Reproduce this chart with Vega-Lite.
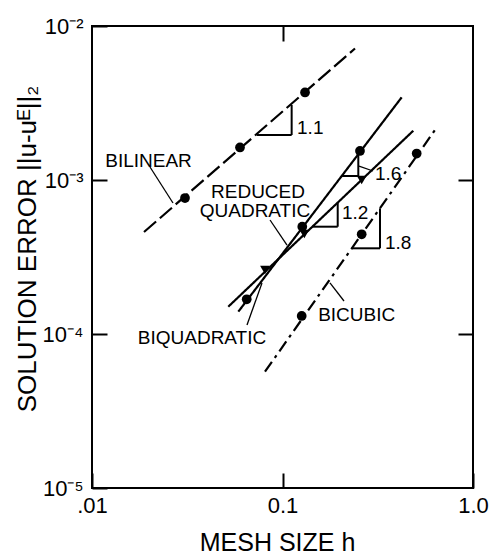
{
  "$schema": "https://vega.github.io/schema/vega-lite/v6.json",
  "width": 381,
  "height": 462,
  "autosize": "none",
  "padding": {"left": 92, "top": 26, "right": 17, "bottom": 70},
  "background": "white",
  "config": {
    "view": {"stroke": "black", "strokeWidth": 2},
    "axis": {
      "grid": false, "domain": false, "ticks": true,
      "tickColor": "black", "tickWidth": 2, "tickSize": -15,
      "labelColor": "black", "titleColor": "black",
      "labelFont": "Liberation Sans", "titleFont": "Liberation Sans",
      "titleFontWeight": "normal", "labelOverlap": false
    },
    "text": {"font": "Liberation Sans", "color": "black"}
  },
  "datasets": {
    "lines": [
      {"series": "bilinear", "h": 0.01875, "err": 0.0004596},
      {"series": "bilinear", "h": 0.2402, "err": 0.007142},
      {"series": "biquadratic", "h": 0.05861, "err": 0.0001396},
      {"series": "biquadratic", "h": 0.4223, "err": 0.003443},
      {"series": "reduced", "h": 0.05193, "err": 0.0001504},
      {"series": "reduced", "h": 0.4860, "err": 0.002090},
      {"series": "bicubic", "h": 0.08091, "err": 0.0000569},
      {"series": "bicubic", "h": 0.6318, "err": 0.002112}
    ],
    "points": [
      {"series": "bilinear", "marker": "circle", "h": 0.03077, "err": 0.000764},
      {"series": "bilinear", "marker": "circle", "h": 0.05982, "err": 0.001626},
      {"series": "bilinear", "marker": "circle", "h": 0.1313, "err": 0.0037},
      {"series": "biquadratic", "marker": "circle", "h": 0.06489, "err": 0.000168},
      {"series": "biquadratic", "marker": "circle", "h": 0.1270, "err": 0.0004975},
      {"series": "biquadratic", "marker": "circle", "h": 0.2551, "err": 0.001543},
      {"series": "reduced", "marker": "triangle", "h": 0.08091, "err": 0.0002603},
      {"series": "reduced", "marker": "triangle", "h": 0.1302, "err": 0.0004461},
      {"series": "reduced", "marker": "triangle", "h": 0.2604, "err": 0.001},
      {"series": "bicubic", "marker": "circle", "h": 0.1261, "err": 0.0001309},
      {"series": "bicubic", "marker": "circle", "h": 0.2604, "err": 0.000444},
      {"series": "bicubic", "marker": "circle", "h": 0.5063, "err": 0.001486}
    ],
    "legs": [
      {"h": 0.07321, "err": 0.00196, "h2": 0.1117, "err2": 0.00196},
      {"h": 0.1117, "err": 0.00196, "h2": 0.1117, "err2": 0.003069},
      {"h": 0.2053, "err": 0.001062, "h2": 0.25, "err2": 0.001062},
      {"h": 0.25, "err": 0.001062, "h2": 0.25, "err2": 0.001453},
      {"h": 0.1429, "err": 0.0004975, "h2": 0.1949, "err2": 0.0004975},
      {"h": 0.1949, "err": 0.0004975, "h2": 0.1949, "err2": 0.0007088},
      {"h": 0.2302, "err": 0.0003601, "h2": 0.3249, "err2": 0.0003601},
      {"h": 0.3249, "err": 0.0003601, "h2": 0.3249, "err2": 0.0006548}
    ],
    "leaders": [
      {"h": 0.02016, "err": 0.001215, "h2": 0.02662, "err2": 0.0007088},
      {"h": 0.08601, "err": 0.0005498, "h2": 0.1056, "err2": 0.0003783},
      {"h": 0.06511, "err": 0.0001144, "h2": 0.07805, "err2": 0.0002145},
      {"h": 0.1775, "err": 0.0002145, "h2": 0.2103, "err2": 0.0001638},
      {"h": 0.2522, "err": 0.001232, "h2": 0.2986, "err2": 0.001144}
    ],
    "names": [
      {"label": "BILINEAR", "h": 0.0198, "err": 0.001338},
      {"label": "REDUCED", "h": 0.07437, "err": 0.000842},
      {"label": "QUADRATIC", "h": 0.0717, "err": 0.0006244},
      {"label": "BIQUADRATIC", "h": 0.0378, "err": 0.0000935},
      {"label": "BICUBIC", "h": 0.2452, "err": 0.0001328}
    ],
    "slopes": [
      {"label": "1.1", "h": 0.1192, "err": 0.002166},
      {"label": "1.6", "h": 0.3059, "err": 0.001102},
      {"label": "1.2", "h": 0.2053, "err": 0.0006105},
      {"label": "1.8", "h": 0.3452, "err": 0.0003882}
    ]
  },
  "layer": [
    {
      "data": {"name": "lines"},
      "mark": {"type": "line", "color": "black", "strokeWidth": 2.2},
      "encoding": {
        "x": {
          "field": "h", "type": "quantitative",
          "scale": {"type": "log", "domain": [0.01, 1], "nice": false},
          "axis": {
            "orient": "bottom",
            "values": [0.01, 0.1, 1],
            "labelExpr": "datum.value < 0.05 ? '.01' : datum.value < 0.5 ? '0.1' : '1.0'",
            "labelPadding": 22, "labelFlush": false, "labelFontSize": 22,
            "title": "MESH SIZE h", "titleFontSize": 25,
            "titleX": 185, "titleY": 62, "titleAlign": "center", "titleBaseline": "alphabetic"
          }
        },
        "y": {
          "field": "err", "type": "quantitative",
          "scale": {"type": "log", "domain": [0.00001, 0.01], "nice": false},
          "axis": {
            "orient": "left",
            "values": [0.00001, 0.0001, 0.001, 0.01],
            "labelExpr": "datum.value < 0.00005 ? '10⁻⁵' : datum.value < 0.0005 ? '10⁻⁴' : datum.value < 0.005 ? '10⁻³' : '10⁻²'",
            "labelPadding": 24, "labelFontSize": 22, "labelBaseline": "middle",
            "title": "SOLUTION ERROR ||u-uᴱ||₂", "titleFontSize": 26,
            "titleX": -57, "titleY": 222.5, "titleAlign": "center", "titleBaseline": "alphabetic", "titleAngle": -90
          }
        },
        "detail": {"field": "series"},
        "strokeDash": {
          "field": "series", "type": "nominal", "legend": null,
          "scale": {"domain": ["bilinear", "biquadratic", "reduced", "bicubic"], "range": [[16, 5], [1, 0], [1, 0], [12, 5, 3, 5]]}
        }
      }
    },
    {
      "data": {"name": "legs"},
      "mark": {"type": "rule", "color": "black", "strokeWidth": 2},
      "encoding": {
        "x": {
          "field": "h", "type": "quantitative",
          "scale": {"type": "log", "domain": [0.01, 1], "nice": false},
          "axis": {"orient": "top", "values": [0.1], "labels": false, "title": null}
        },
        "x2": {"field": "h2"},
        "y": {
          "field": "err", "type": "quantitative",
          "scale": {"type": "log", "domain": [0.00001, 0.01], "nice": false},
          "axis": {"orient": "right", "values": [0.0001, 0.001], "labels": false, "title": null}
        },
        "y2": {"field": "err2"}
      }
    },
    {
      "data": {"name": "leaders"},
      "mark": {"type": "rule", "color": "black", "strokeWidth": 1.3},
      "encoding": {
        "x": {"field": "h", "type": "quantitative", "scale": {"type": "log", "domain": [0.01, 1], "nice": false}, "axis": null},
        "x2": {"field": "h2"},
        "y": {"field": "err", "type": "quantitative", "scale": {"type": "log", "domain": [0.00001, 0.01], "nice": false}, "axis": null},
        "y2": {"field": "err2"}
      }
    },
    {
      "data": {"name": "points"},
      "mark": {"type": "point", "filled": true, "color": "black", "opacity": 1, "size": 95},
      "encoding": {
        "x": {"field": "h", "type": "quantitative", "scale": {"type": "log", "domain": [0.01, 1], "nice": false}, "axis": null},
        "y": {"field": "err", "type": "quantitative", "scale": {"type": "log", "domain": [0.00001, 0.01], "nice": false}, "axis": null},
        "shape": {
          "field": "marker", "type": "nominal", "legend": null,
          "scale": {"domain": ["circle", "triangle"], "range": ["circle", "triangle-down"]}
        }
      }
    },
    {
      "data": {"name": "names"},
      "mark": {"type": "text", "fontSize": 19, "align": "center", "baseline": "middle"},
      "encoding": {
        "x": {"field": "h", "type": "quantitative", "scale": {"type": "log", "domain": [0.01, 1], "nice": false}, "axis": null},
        "y": {"field": "err", "type": "quantitative", "scale": {"type": "log", "domain": [0.00001, 0.01], "nice": false}, "axis": null},
        "text": {"field": "label"}
      }
    },
    {
      "data": {"name": "slopes"},
      "mark": {"type": "text", "fontSize": 19, "align": "left", "baseline": "middle"},
      "encoding": {
        "x": {"field": "h", "type": "quantitative", "scale": {"type": "log", "domain": [0.01, 1], "nice": false}, "axis": null},
        "y": {"field": "err", "type": "quantitative", "scale": {"type": "log", "domain": [0.00001, 0.01], "nice": false}, "axis": null},
        "text": {"field": "label"}
      }
    }
  ],
  "resolve": {"axis": {"x": "independent", "y": "independent"}}
}
